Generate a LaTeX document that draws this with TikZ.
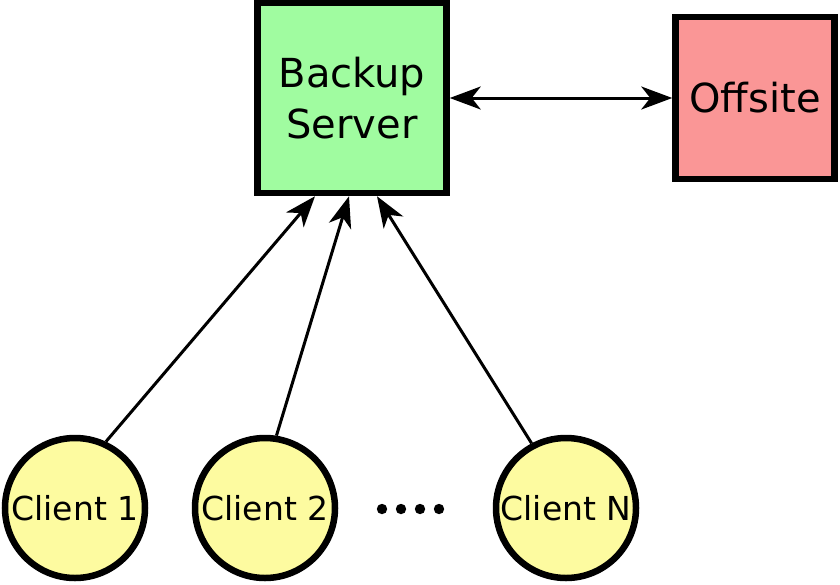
\documentclass[tikz,border=0pt]{standalone}
\usepackage{fontspec}
\setmainfont{DejaVu Sans}
\usetikzlibrary{arrows.meta}
\definecolor{srvgreen}{RGB}{160,252,160}
\definecolor{offred}{RGB}{250,150,150}
\definecolor{cliyellow}{RGB}{253,251,160}
\begin{document}
\begin{tikzpicture}[x=1pt,y=-1pt,
  boxnode/.style={draw=black,line width=6.5pt,align=center,inner sep=0pt,
    font=\fontsize{40}{51}\selectfont},
  clientnode/.style={circle,draw=black,line width=6.5pt,fill=cliyellow,
    minimum size=140pt,inner sep=0pt,font=\fontsize{33}{39}\selectfont},
  tip/.tip={Stealth[length=31pt,width=23pt,inset=9pt]},
  link/.style={line width=3pt,-tip},
  hlink/.style={line width=3pt,tip-tip}]
\useasboundingbox[fill=white] (0,0) rectangle (840,584);
\node[boxnode,fill=srvgreen,minimum width=189pt,minimum height=190pt] (srv) at (352,98) {Backup\\Server};
\node[boxnode,fill=offred,minimum width=159pt,minimum height=162pt] (off) at (755,98) {Offsite};
\node[clientnode] (c1) at (75,508) {Client 1};
\node[clientnode] (c2) at (265,508) {Client 2};
\node[clientnode] (cn) at (566,508) {Client N};
\foreach \x in {382,401,420,439} \fill (\x,509) circle (5.2pt);
\draw[hlink] (srv.east) -- (off.west);
\draw[link] (c1.65) -- ([xshift=-37pt]srv.south);
\draw[link] (c2.81) -- ([xshift=-3pt]srv.south);
\draw[link] (cn.118) -- ([xshift=25pt]srv.south);
\end{tikzpicture}
\end{document}
